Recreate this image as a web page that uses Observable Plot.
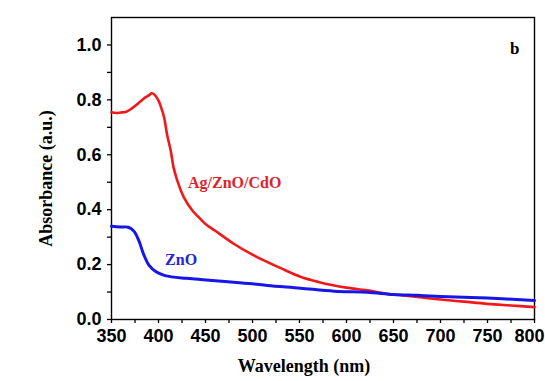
<!DOCTYPE html>
<html>
<head>
<meta charset="utf-8">
<script src="https://cdn.jsdelivr.net/npm/d3@7"></script>
<script src="https://cdn.jsdelivr.net/npm/@observablehq/plot@0.6"></script>
<style>
  html, body { margin: 0; padding: 0; background: #fff; }
  #chart svg { display: block; }
</style>
</head>
<body>
<div id="chart"></div>
<script>
// Ag/ZnO/CdO series (wavelength nm, absorbance a.u.)
const agWavelength = [350, 355, 360, 365, 370, 375, 380, 386, 390, 393, 396, 400, 403, 406, 409, 413, 416, 420, 427, 436, 445, 450, 460, 480, 500, 516, 530, 551, 570, 587, 600, 622, 643, 660, 680, 700, 725, 750, 775, 800];
const agAbsorbance = [0.755, 0.752, 0.754, 0.756, 0.765, 0.778, 0.792, 0.809, 0.817, 0.824, 0.818, 0.797, 0.770, 0.736, 0.676, 0.615, 0.554, 0.506, 0.445, 0.397, 0.365, 0.348, 0.324, 0.276, 0.236, 0.209, 0.187, 0.156, 0.137, 0.124, 0.116, 0.106, 0.094, 0.088, 0.080, 0.073, 0.065, 0.057, 0.051, 0.045];

// ZnO series
const znoWavelength = [350, 355, 360, 368, 374, 379, 384, 390, 397, 407, 429, 445, 457, 480, 500, 516, 551, 587, 622, 650, 675, 700, 750, 800];
const znoAbsorbance = [0.340, 0.338, 0.337, 0.336, 0.321, 0.288, 0.239, 0.197, 0.175, 0.160, 0.150, 0.146, 0.142, 0.136, 0.130, 0.124, 0.114, 0.103, 0.099, 0.091, 0.088, 0.084, 0.078, 0.069];

const seriesNames = ["Ag/ZnO/CdO", "ZnO"];
const seriesColors = ["#f01818", "#1616e8"];
const labelColors = ["#e01f2b", "#2626d2"];

const xTicks = d3.range(350, 801, 25);
const yTicks = d3.range(0, 1.05, 0.1).map(v => +v.toFixed(1));

const xTitle = "Wavelength (nm)";
const yTitle = "Absorbance (a.u.)";
const panelLetter = "b";

const agData = agWavelength.map((w, i) => ({w, a: agAbsorbance[i]}));
const znoData = znoWavelength.map((w, i) => ({w, a: znoAbsorbance[i]}));

const tickFont = {fontSize: 18, fontWeight: "bold", fontFamily: "Liberation Sans, Arial, sans-serif"};
const serif = "Liberation Serif, Times New Roman, serif";

const chart = Plot.plot({
  width: 545,
  height: 381,
  marginLeft: 111,
  marginRight: 11,
  marginTop: 17,
  marginBottom: 62,
  style: {background: "#fff", color: "#000", overflow: "visible"},
  x: {domain: [350, 800]},
  y: {domain: [0, 1.1]},
  marks: [
    // x tick marks (every 25) and labels (every 50); last label nudged inside the window
    Plot.axisX({
      ticks: xTicks, tickFormat: () => "",
      tickSize: 4, label: null, strokeWidth: 1.3
    }),
    Plot.axisX({
      ticks: xTicks.filter(d => d % 50 === 0 && d < 800),
      tickSize: 0, tickPadding: 10, label: null, ...tickFont
    }),
    Plot.axisX({
      ticks: [800],
      tickSize: 0, tickPadding: 10, label: null, dx: -5, ...tickFont
    }),
    Plot.axisY({
      ticks: yTicks,
      tickFormat: d => Math.round(d * 10) % 2 === 0 ? d.toFixed(1) : "",
      tickSize: 4, tickPadding: 6, label: null,
      strokeWidth: 1.3, ...tickFont
    }),
    Plot.frame({stroke: "#000", strokeWidth: 1.4}),
    Plot.line(agData, {x: "w", y: "a", stroke: seriesColors[0], strokeWidth: 2.6, curve: "catmull-rom"}),
    Plot.line(znoData, {x: "w", y: "a", stroke: seriesColors[1], strokeWidth: 3, curve: "catmull-rom"}),
    Plot.text([seriesNames[0]], {x: 481, y: 0.499, text: d => d, fill: labelColors[0], fontSize: 16, fontWeight: "bold", fontFamily: serif, textAnchor: "middle", lineAnchor: "middle"}),
    Plot.text([seriesNames[1]], {x: 407, y: 0.218, text: d => d, fill: labelColors[1], fontSize: 16, fontWeight: "bold", fontFamily: serif, textAnchor: "start", lineAnchor: "middle"}),
    Plot.text([panelLetter], {frameAnchor: "top-right", dx: -15, dy: 31, text: d => d, fontSize: 17, fontWeight: "bold", fontFamily: serif, lineAnchor: "middle"}),
    Plot.text([xTitle], {frameAnchor: "bottom", dx: -19, dy: 47, text: d => d, fontSize: 18, fontWeight: "bold", fontFamily: serif, textAnchor: "middle", lineAnchor: "middle"}),
    Plot.text([yTitle], {frameAnchor: "left", dx: -65, dy: 10, rotate: -90, text: d => d, fontSize: 18, fontWeight: "bold", fontFamily: serif, textAnchor: "middle", lineAnchor: "middle"})
  ]
});
document.getElementById("chart").appendChild(chart);
</script>
</body>
</html>
